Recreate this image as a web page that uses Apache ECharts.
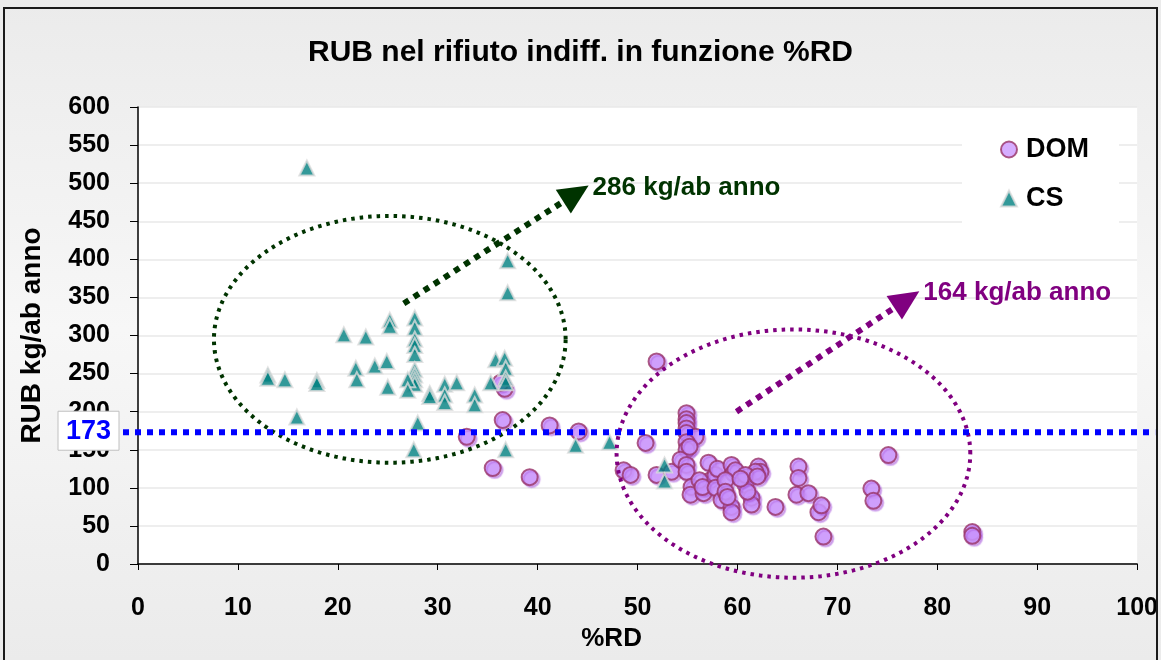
<!DOCTYPE html>
<html><head><meta charset="utf-8">
<script src="https://cdn.jsdelivr.net/npm/echarts@6/dist/echarts.min.js"></script>
<style>html,body{margin:0;padding:0;background:#eee}#c{width:1161px;height:660px}</style>
</head><body><div id="c"></div>
<script>
// ---- data ----
const chartTitle = 'RUB nel rifiuto indiff. in funzione %RD';
const xAxisName = '%RD';
const yAxisName = 'RUB kg/ab anno';
const seriesNames = ['DOM', 'CS'];
const domPoints = [
  [36.7,230],[36.3,238],[36.5,189],[32.9,167],[41.2,182],[44.1,174],[35.5,126],[39.2,114],
  [51.9,266],[50.8,159],[48.6,123],[49.3,117],[51.9,117],[53.4,121],
  [54.9,198],[54.9,190],[54.9,185],[54.9,178],[54.9,172],[55.8,167],[54.9,160],[54.9,150],
  [54.3,137],[54.9,130],[54.9,121],[55.4,101],[55.3,91],[55.2,154],
  [57.1,133],[57.3,110],[56.6,93],[57.8,117],[56.2,110],[56.5,101],[58.0,125],[57.8,100],
  [59.4,130],[59.6,119],[59.8,123],[58.4,84],[59.4,75],[59.4,68],[58.8,110],[58.8,95],[59.0,88],
  [60.8,104],[61.4,87],[61.4,78],[62.1,128],[62.3,121],[61.8,121],[60.8,117],[61.0,95],[60.3,112],[62.0,115],
  [63.8,75],[66.1,128],[66.1,113],[65.9,91],[67.1,93],[68.1,68],[68.4,77],[68.6,36],
  [75.1,143],[73.4,99],[73.6,83],[83.5,42],[83.5,37]
];
const csPoints = [
  [16.9,520],[13.0,248],[13.0,244],[14.7,242],[17.9,241],[17.9,237],[15.9,193],
  [20.6,301],[22.8,298],[25.2,320],[25.2,312],[21.8,257],[21.9,242],[23.7,260],[24.9,266],[25.0,232],
  [27.7,323],[27.7,310],[27.7,295],[27.7,287],[27.7,275],[27.7,255],[27.7,248],[27.7,242],[27.7,236],
  [27.0,242],[27.0,228],[29.2,224],[29.2,220],[30.7,236],[30.7,222],[30.7,212],[31.9,238],
  [33.7,222],[33.7,209],[28.0,185],[27.6,150],
  [37.0,398],[37.0,356],[35.8,268],[36.7,270],[36.8,257],[36.8,244],[36.8,238],[35.3,238],
  [36.8,150],[43.8,156],[47.2,160],[52.7,130],[52.7,109]
];
const meanValue = 173;
const noteLabels = ['286 kg/ab anno', '164 kg/ab anno'];

// ---- annotation geometry (data units) ----
const ellipses = [
  {cx:25.2, cy:295, rx:17.6, ry:162, color:'#003300'},
  {cx:65.6, cy:145, rx:17.7, ry:163, color:'#800080'}
];
const arrows = [
  {from:[26.6,342], to:[45.1,497], color:'#003300', label:noteLabels[0]},
  {from:[59.9,200], to:[78.2,358], color:'#800080', label:noteLabels[1]}
];

const FONT = '"Liberation Sans", Arial, sans-serif';

function renderNotes(params, api) {
  if (params.dataIndex !== 0) return;
  const children = [];
  ellipses.forEach(e => {
    const pts = [];
    for (let i = 0; i <= 200; i++) {
      const t = i / 200 * 2 * Math.PI;
      pts.push(api.coord([e.cx + e.rx * Math.cos(t), e.cy + e.ry * Math.sin(t)]));
    }
    children.push({type:'polyline', shape:{points:pts},
      style:{stroke:e.color, fill:null, lineWidth:4, lineDash:[3.5,5]}});
  });
  arrows.forEach(a => {
    const p0 = api.coord(a.from), p1 = api.coord(a.to);
    const dx = p1[0]-p0[0], dy = p1[1]-p0[1], L = Math.hypot(dx, dy);
    const ux = dx/L, uy = dy/L, hl = 30, hw = 14;
    const bx = p1[0]-ux*hl, by = p1[1]-uy*hl;
    children.push({type:'line', shape:{x1:p0[0], y1:p0[1], x2:bx, y2:by},
      style:{stroke:a.color, lineWidth:6, lineDash:[6,6]}});
    children.push({type:'polygon', shape:{points:[[p1[0],p1[1]],[bx-uy*hw, by+ux*hw],[bx+uy*hw, by-ux*hw]]},
      style:{fill:a.color}});
    children.push({type:'text', x:p1[0]+4, y:p1[1]+2,
      style:{text:a.label, fill:a.color, font:'bold 26px ' + FONT, align:'left', verticalAlign:'middle'}});
  });
  const l = api.coord([0, meanValue]), r = api.coord([100, meanValue]);
  children.push({type:'line', shape:{x1:l[0]-15, y1:l[1], x2:r[0]+18, y2:r[1]},
    style:{stroke:'#0000ff', lineWidth:6, lineDash:[6,6]}});
  children.push({type:'rect', shape:{x:l[0]-80, y:l[1]-21, width:61, height:39},
    style:{fill:'#fff', stroke:'#c0c0c0', lineWidth:1}});
  children.push({type:'text', x:l[0]-49.5, y:l[1]-1,
    style:{text:String(meanValue), fill:'#0000ff', font:'bold 27px ' + FONT, align:'center', verticalAlign:'middle'}});
  return {type:'group', children};
}

const chart = echarts.init(document.getElementById('c'), null, {renderer:'canvas'});
chart.setOption({
  animation:false,
  backgroundColor:'#eeeeee',
  textStyle:{fontFamily:FONT},
  graphic:[
    {type:'rect', z:-10, silent:true, shape:{x:0, y:0, width:1161, height:660},
      style:{fill:{type:'linear', x:0, y:0, x2:0, y2:1, colorStops:[
        {offset:0, color:'#ebebeb'}, {offset:0.5, color:'#f7f7f7'}, {offset:1, color:'#ebebeb'}]}}},
    {type:'rect', z:100, silent:true, shape:{x:4, y:8, width:1153, height:660},
      style:{fill:null, stroke:'#1a1a1a', lineWidth:2}}
  ],
  title:{text:chartTitle, left:'center', top:33,
    textStyle:{fontSize:30, fontWeight:'bold', color:'#000', fontFamily:FONT}},
  legend:{data:seriesNames, orient:'vertical', left:962, top:125,
    backgroundColor:'#fff', padding:[11,30,11,38], itemGap:22, itemWidth:16, itemHeight:16,
    textStyle:{fontSize:27, fontWeight:'bold', color:'#000', fontFamily:FONT, padding:[0,0,0,4]}},
  grid:{left:138, right:21, top:107, bottom:96, show:true, backgroundColor:'#fff', borderWidth:0, containLabel:false},
  xAxis:{type:'value', min:0, max:100, interval:10,
    name:xAxisName, nameLocation:'middle', nameGap:59,
    nameTextStyle:{fontSize:26, fontWeight:'bold', color:'#000', padding:[0,52,0,0]},
    axisLine:{lineStyle:{color:'#000', width:1.5}},
    axisTick:{show:true, length:6, lineStyle:{color:'#000'}},
    axisLabel:{fontSize:25, fontWeight:'bold', color:'#000', margin:32},
    splitLine:{show:false}},
  yAxis:{type:'value', min:0, max:600, interval:50,
    name:yAxisName, nameLocation:'middle', nameGap:92, nameRotate:90,
    nameTextStyle:{fontSize:28, fontWeight:'bold', color:'#000'},
    axisLine:{show:true, lineStyle:{color:'#000', width:1.5}},
    axisTick:{show:true, length:8, lineStyle:{color:'#000'}},
    axisLabel:{fontSize:25, fontWeight:'bold', color:'#000', margin:28},
    splitLine:{show:true, lineStyle:{color:'#e8e8e8', width:1.5}}},
  series:[
    {name:seriesNames[0], type:'scatter', data:domPoints, symbol:'circle', symbolSize:16, z:3,
      itemStyle:{color:'#cc99ff', borderColor:'#993366', borderWidth:2,
        shadowColor:'rgba(170,90,220,0.55)', shadowBlur:1, shadowOffsetX:2, shadowOffsetY:2}},
    {name:seriesNames[1], type:'scatter', data:csPoints, symbol:'triangle', symbolSize:15, z:4,
      itemStyle:{color:'#008080', borderColor:'#dcdcdc', borderWidth:2}},
    {name:'notes', type:'custom', data:[[0,0]], renderItem:renderNotes, z:10, silent:true, clip:false}
  ]
});
</script></body></html>
